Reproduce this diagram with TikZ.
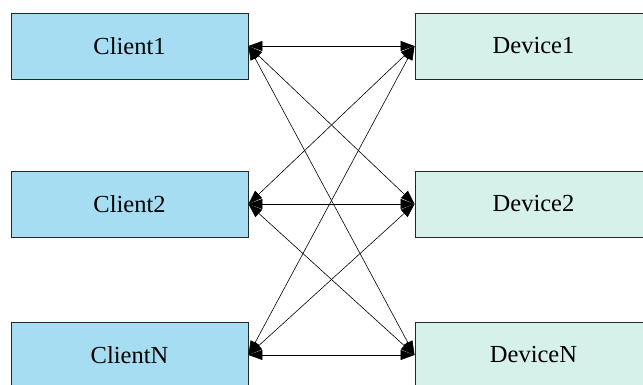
\documentclass[tikz,border=0pt]{standalone}
\usepackage{fontspec}
\setmainfont{Liberation Serif}
\usetikzlibrary{arrows.meta}

\definecolor{clientblue}{RGB}{166,221,242}
\definecolor{devicegreen}{RGB}{214,240,234}

\begin{document}
\begin{tikzpicture}[
		box/.style={draw=black!85, line width=0.9pt, minimum width=237pt, minimum height=66pt, inner sep=0pt, font=\fontsize{24.5}{28}\selectfont},
		clientbox/.style={box, fill=clientblue},
		devicebox/.style={box, fill=devicegreen},
		link/.style={black, line width=0.6pt, {Triangle[length=14pt,width=10pt]}-{Triangle[length=14pt,width=10pt]}}
	]
				\useasboundingbox (0,0) rectangle (643pt,385pt);
				% clients
				\node[clientbox] (client1) at (129.5pt,339pt) {Client1};
				\node[clientbox] (client2) at (129.5pt,181pt) {Client2};
				\node[clientbox] (clientN) at (129.5pt,30pt) {ClientN};
				% devices
				\node[devicebox] (device1) at (533.5pt,339pt) {Device1};
				\node[devicebox] (device2) at (533.5pt,181pt) {Device2};
				\node[devicebox] (deviceN) at (533.5pt,30pt) {DeviceN};
				% every client to every device
				\foreach \c in {1,2,N}
					\foreach \d in {1,2,N}
						\draw[link] (client\c.east) -- (device\d.west);
			\end{tikzpicture}
\end{document}
